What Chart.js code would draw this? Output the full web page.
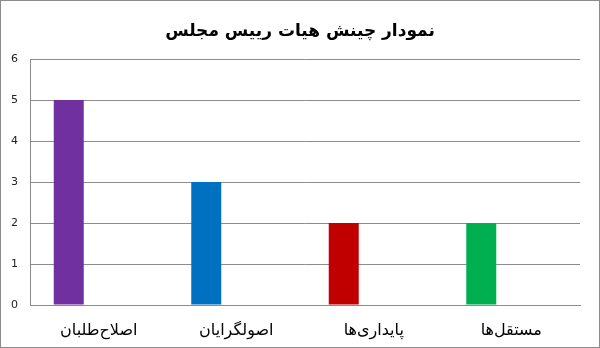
<!DOCTYPE html>
<html>
<head>
    <meta charset="UTF-8">
    <title>نمودار چینش هیات رییس مجلس</title>
    <script src="https://cdn.jsdelivr.net/npm/chart.js"></script>
    <style>
        body { margin: 0; background: #fff; }
        #wrap { width: 600px; height: 348px; box-sizing: border-box; border: 1px solid #8c8c8c; }
    </style>
</head>
<body>
    <div id="wrap">
        <canvas id="myChart" width="598" height="346"></canvas>
    </div>

    <script>
    const Categories = ['اصلاح‌طلبان', 'اصولگرایان', 'پایداری‌ها', 'مستقل‌ها'];
    const Members = [5, 3, 2, 2];
    const BarColors = ['#7030A0', '#0070C0', '#C00000', '#00B050'];
    // two empty series, as in the original sheet; they keep the bars on the left of each slot
    const EmptySeries1 = [null, null, null, null];
    const EmptySeries2 = [null, null, null, null];
    const YTicks = [0, 1, 2, 3, 4, 5, 6];

    const ctx = document.getElementById('myChart');
    new Chart(ctx, {
        type: 'bar',
        data: {
            labels: Categories,
            datasets: [{
                label: 'تعداد',
                data: Members,
                backgroundColor: BarColors,
                borderWidth: 0
            }, {
                label: '',
                data: EmptySeries1
            }, {
                label: '',
                data: EmptySeries2
            }]
        },
        options: {
            responsive: false,
            animation: false,
            categoryPercentage: 0.6545,
            barPercentage: 1,
            layout: { padding: 0 },
            plugins: {
                legend: { display: false },
                tooltip: { enabled: false },
                title: {
                    display: true,
                    text: 'نمودار چینش هیات رییس مجلس',
                    color: '#000',
                    font: { family: 'DejaVu Sans', size: 17, weight: 'bold' },
                    padding: { top: 20, bottom: 17.6 }
                }
            },
            scales: {
                x: {
                    grid: { display: false, drawTicks: false },
                    border: { display: true, color: '#8c8c8c' },
                    ticks: {
                        color: '#000',
                        padding: 16,
                        font: { family: 'DejaVu Sans', size: 16 }
                    },
                    afterFit: function (scale) { scale.height = 42; }
                },
                y: {
                    min: YTicks[0],
                    max: YTicks[YTicks.length - 1],
                    afterBuildTicks: function (scale) {
                        scale.ticks = YTicks.map(v => ({ value: v }));
                    },
                    grid: { color: '#8c8c8c', drawTicks: false },
                    border: { display: true, color: '#8c8c8c' },
                    ticks: {
                        color: '#222',
                        padding: 12,
                        font: { family: 'DejaVu Sans', size: 11 }
                    },
                    afterFit: function (scale) { scale.width = 29; }
                },
                // blank right axis, only holds the margin so the title stays centred on the whole box
                yRight: {
                    position: 'right',
                    min: YTicks[0],
                    max: YTicks[YTicks.length - 1],
                    grid: { drawOnChartArea: false, drawTicks: false },
                    border: { display: false },
                    ticks: { display: false },
                    afterFit: function (scale) { scale.width = 19; }
                }
            }
        }
    });
    </script>
</body>
</html>
